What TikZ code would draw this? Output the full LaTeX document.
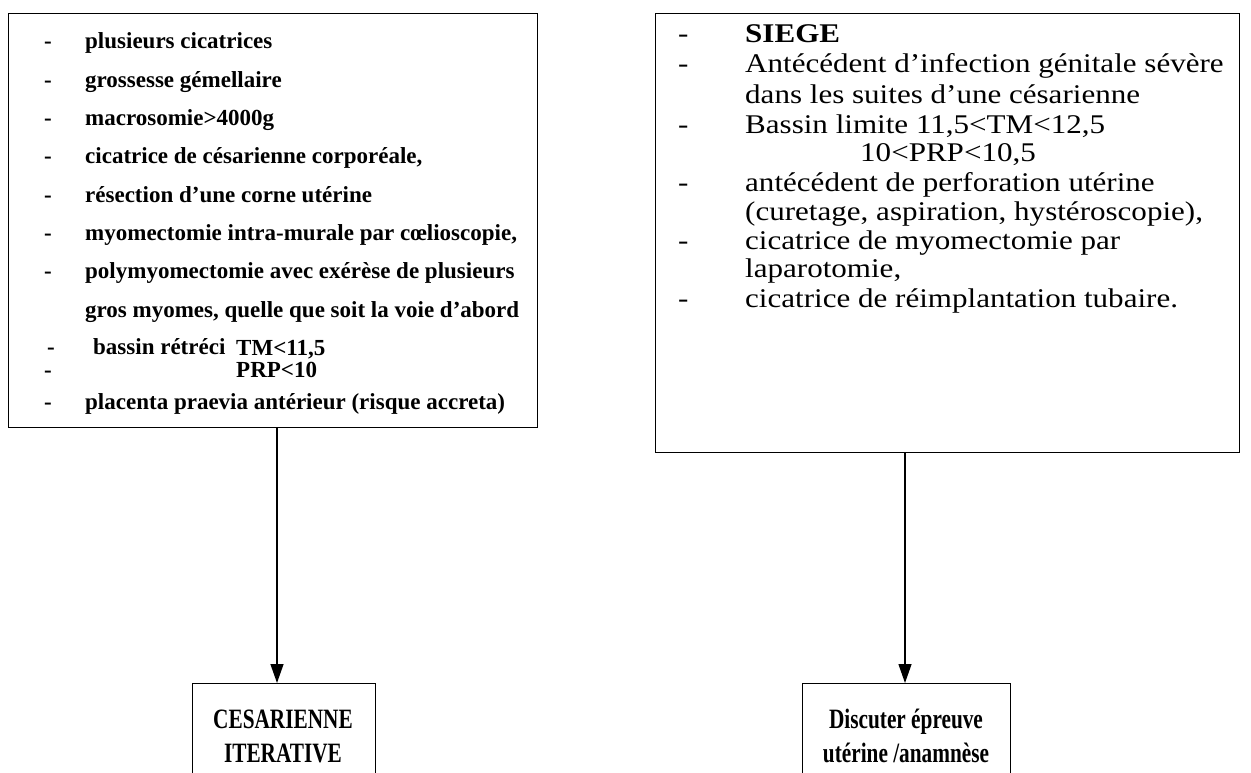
\documentclass[tikz,border=0pt]{standalone}
\usepackage{fontspec}
\setmainfont{Liberation Serif}
\newfontfamily\rfont[FakeStretch=1.15]{Liberation Serif}
\newfontfamily\bfont[FakeStretch=0.76]{Liberation Serif}
\usetikzlibrary{arrows.meta}
\tikzset{
  frame/.style={draw=black, line width=1.3pt, inner sep=0pt, anchor=north west},
  lt/.style={inner sep=0pt, anchor=west, text height=0.7em, text depth=0.2em, font=\fontsize{23}{23}\selectfont\bfseries},
  rt/.style={inner sep=0pt, anchor=west, text height=0.7em, text depth=0.2em, font=\rfont\fontsize{27}{27}\selectfont},
  bt/.style={inner sep=0pt, align=center, font=\bfont\fontsize{28}{34}\selectfont\bfseries},
  conn/.style={line width=1.3pt, -{Triangle[length=19pt,width=13pt]}}
}
\begin{document}
\begin{tikzpicture}[x=1pt,y=-1pt]
\useasboundingbox (0,0) rectangle (1251,773);
\fill[white] (0,0) rectangle (1251,773);
\clip (0,0) rectangle (1251,773);
% boxes
\node[frame, minimum width=529pt, minimum height=414pt] (L) at (8,13) {};
\node[frame, minimum width=584pt, minimum height=439pt] (R) at (655,13) {};
\node[frame, minimum width=183pt, minimum height=140pt] (A) at (192,683) {};
\node[frame, minimum width=208pt, minimum height=140pt] (D) at (802,683) {};
% left text
\node[lt] (ld1) at (44,46) {-};
\node[lt] (lt1) at (85,46) {plusieurs cicatrices};
\node[lt] (ld2) at (44,85) {-};
\node[lt] (lt2) at (85,85) {grossesse gémellaire};
\node[lt] (ld3) at (44,123) {-};
\node[lt] (lt3) at (85,123) {macrosomie>4000g};
\node[lt] (ld4) at (44,161) {-};
\node[lt] (lt4) at (85,161) {cicatrice de césarienne corporéale,};
\node[lt] (ld5) at (44,200) {-};
\node[lt] (lt5) at (85,200) {résection d’une corne utérine};
\node[lt] (ld6) at (44,238) {-};
\node[lt] (lt6) at (85,238) {myomectomie intra-murale par cœlioscopie,};
\node[lt] (ld7) at (44,276) {-};
\node[lt] (lt7) at (85,276) {polymyomectomie avec exérèse de plusieurs};
\node[lt] (lt8) at (85,315) {gros myomes, quelle que soit la voie d’abord};
\node[lt] (ld9) at (47,352) {-};
\node[lt] (lt9) at (93,352) {bassin rétréci};
\node[lt, text depth=0pt] (lt9b) at (236,352) {TM<11,5};
\node[lt] (ld10) at (44,375) {-};
\node[lt, text height=0.62em] (lt10) at (236,375) {PRP<10};
\node[lt] (ld11) at (44,407) {-};
\node[lt] (lt11) at (85,407) {placenta praevia antérieur (risque accreta)};
% right text
\node[rt] (rd1) at (678,40) {-};
\node[rt, font=\rfont\fontsize{27}{27}\selectfont\bfseries] (rt1) at (745,40) {SIEGE};
\node[rt] (rd2) at (678,70) {-};
\node[rt] (rt2) at (745,70) {Antécédent d’infection génitale sévère};
\node[rt] (rt3) at (745,101) {dans les suites d’une césarienne};
\node[rt] (rd4) at (678,131) {-};
\node[rt] (rt4) at (745,131) {Bassin limite 11,5<TM<12,5};
\node[rt] (rt5) at (860,159) {10<PRP<10,5};
\node[rt] (rd6) at (678,189) {-};
\node[rt] (rt6) at (745,189) {antécédent de perforation utérine};
\node[rt] (rt7) at (745,218) {(curetage, aspiration, hystéroscopie),};
\node[rt] (rd8) at (678,247) {-};
\node[rt] (rt8) at (745,247) {cicatrice de myomectomie par};
\node[rt] (rt9) at (745,275) {laparotomie,};
\node[rt] (rd10) at (678,305) {-};
\node[rt] (rt10) at (745,305) {cicatrice de réimplantation tubaire.};
% bottom texts
\node[bt] (at) at (283,736) {CESARIENNE\\ITERATIVE};
\node[bt] (dt) at (906,736) {Discuter épreuve\\utérine /anamnèse};
% connectors
\coordinate (As) at (277,683);
\coordinate (Ds) at (905,683);
\draw[conn] (L.south -| As) -- (As);
\draw[conn] (R.south -| Ds) -- (Ds);
\end{tikzpicture}
\end{document}
